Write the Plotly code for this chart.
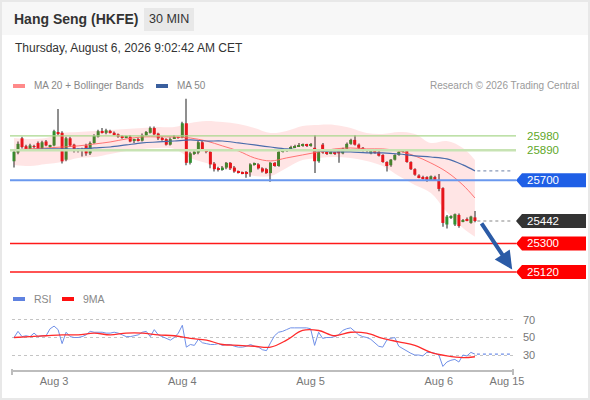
import plotly.graph_objects as go

W, H = 590, 400


def px(x):
    return x / W


def py(y):
    return 1 - y / H


# 30 min candles, Aug 3 -> Aug 6
open_ = [25820, 25875, 25965, 25915, 25895, 25915, 25935, 25900, 25945, 25915,
         25920, 26005, 26000, 25830, 25965, 25925, 25890, 25885, 25920, 25870,
         25935, 25975, 26005, 26000, 26012, 26000, 25990, 25975, 25972, 25975,
         25950, 25955, 25950, 25985, 26000, 26030, 25995, 25965, 25960, 25925,
         25965, 25970, 25970, 26060, 25810, 25870, 25875, 25940, 25890, 25880,
         25805, 25775, 25770, 25780, 25810, 25780, 25755, 25748, 25750, 25750,
         25800, 25800, 25775, 25770, 25745, 25810, 25790, 25880, 25885, 25890,
         25910, 25915, 25920, 25925, 25920, 25905, 25820, 25925, 25875, 25870,
         25875, 25885, 25870, 25900, 25930, 25955, 25925, 25905, 25890, 25870,
         25880, 25880, 25860, 25815, 25795, 25830, 25860, 25880, 25885, 25815,
         25770, 25730, 25720, 25720, 25700, 25720, 25700, 25650, 25420, 25465,
         25420, 25480, 25440, 25455, 25430, 25465]
high = [25890, 25945, 25975, 25925, 25930, 25925, 25945, 25950, 25955, 25925,
        26020, 26150, 26010, 25975, 25975, 25930, 25900, 25905, 25930, 25945,
        25990, 26020, 26030, 26025, 26020, 26008, 25995, 25985, 25982, 25985,
        25962, 25968, 25995, 26012, 26040, 26040, 26000, 25975, 25965, 25970,
        25985, 25975, 26070, 26215, 25880, 25895, 25950, 25950, 25895, 25885,
        25815, 25785, 25790, 25815, 25815, 25790, 25762, 25755, 25758, 25808,
        25812, 25808, 25782, 25778, 25815, 25815, 25890, 25895, 25898, 25918,
        25925, 25935, 25932, 25930, 25935, 25985, 25890, 25935, 25882, 25885,
        25880, 25890, 25905, 25938, 25962, 25985, 25932, 25910, 25898, 25895,
        25885, 25885, 25865, 25820, 25835, 25865, 25888, 25892, 25890, 25820,
        25775, 25738, 25728, 25725, 25730, 25728, 25740, 25655, 25480, 25478,
        25490, 25490, 25455, 25465, 25475, 25505]
low = [25780, 25865, 25900, 25885, 25890, 25900, 25895, 25895, 25915, 25905,
       25915, 25985, 25805, 25820, 25910, 25875, 25875, 25850, 25855, 25860,
       25930, 25970, 25995, 25990, 25995, 25985, 25968, 25962, 25965, 25940,
       25935, 25945, 25945, 25980, 25995, 25985, 25955, 25950, 25920, 25920,
       25960, 25962, 25965, 25795, 25800, 25860, 25865, 25885, 25870, 25775,
       25755, 25755, 25760, 25770, 25765, 25748, 25742, 25738, 25715, 25722,
       25792, 25768, 25748, 25740, 25690, 25785, 25785, 25875, 25878, 25885,
       25905, 25910, 25912, 25910, 25912, 25745, 25810, 25868, 25860, 25865,
       25860, 25810, 25865, 25895, 25925, 25920, 25898, 25882, 25875, 25865,
       25868, 25850, 25810, 25755, 25785, 25825, 25855, 25875, 25810, 25765,
       25728, 25712, 25705, 25690, 25695, 25695, 25630, 25405, 25395, 25455,
       25410, 25400, 25435, 25440, 25425, 25435]
close = [25880, 25930, 25910, 25895, 25920, 25912, 25900, 25940, 25920, 25918,
         26010, 25995, 25820, 25965, 25920, 25885, 25885, 25895, 25870, 25935,
         25980, 26010, 26002, 26015, 26000, 25992, 25975, 25970, 25975, 25945,
         25955, 25950, 25985, 26005, 26030, 25990, 25965, 25958, 25925, 25960,
         25970, 25968, 26060, 25810, 25870, 25880, 25940, 25895, 25880, 25800,
         25770, 25765, 25780, 25810, 25775, 25755, 25750, 25745, 25745, 25800,
         25805, 25775, 25755, 25745, 25810, 25790, 25880, 25885, 25890, 25910,
         25915, 25922, 25925, 25918, 25928, 25820, 25880, 25875, 25868, 25875,
         25870, 25870, 25900, 25930, 25955, 25925, 25905, 25890, 25885, 25890,
         25875, 25855, 25815, 25790, 25830, 25860, 25880, 25885, 25815, 25770,
         25735, 25720, 25712, 25700, 25725, 25700, 25645, 25430, 25470, 25470,
         25485, 25410, 25445, 25448, 25470, 25442]
rsi = [50, 57, 51, 52, 51, 55, 51, 52, 52, 60,
       63, 59, 43, 56, 51, 50, 50, 51, 53, 57,
       56, 56, 56, 55, 55, 56, 55, 53, 51, 51,
       52, 53, 56, 57, 51, 59, 53, 51, 49, 47,
       50, 55, 64, 39, 42, 41, 48, 44, 43, 42,
       42, 43, 41, 42, 42, 40, 39, 39, 40, 42,
       40, 39, 36, 35, 44, 52, 56, 57, 59, 61,
       61, 61, 61, 61, 60, 41, 56, 49, 50, 50,
       51, 53, 58, 60, 61, 57, 53, 51, 50, 48,
       44, 40, 39, 47, 49, 50, 40, 37, 34, 32,
       30, 30, 29, 33, 33, 32, 30, 17, 22, 24,
       25, 22, 30, 29, 33, 31]
idx = list(range(len(close)))

# indicators read every 4 candles
ind_idx = [0, 4, 8, 12, 16, 20, 24, 28, 32, 36, 40, 44, 48, 52, 56,
           60, 64, 68, 72, 76, 80, 84, 88, 92, 96, 100, 104, 108, 112, 115]
ma20 = [25892, 25898, 25904, 25910, 25917, 25929, 25942, 25961, 25974, 25974,
        25974, 25967, 25948, 25917, 25885, 25841, 25822, 25841, 25860, 25879,
        25898, 25904, 25898, 25898, 25885, 25854, 25809, 25752, 25670, 25588]
bb_up = [25967, 25961, 25967, 25999, 26005, 26012, 26018, 26024, 26031, 26037,
         26037, 26062, 26075, 26068, 26056, 26031, 25999, 26012, 26043, 26050,
         26050, 26031, 25999, 25993, 26005, 25993, 25936, 25948, 25904, 25828]
bb_lo = [25797, 25790, 25803, 25816, 25841, 25847, 25866, 25885, 25898, 25904,
         25898, 25841, 25809, 25778, 25752, 25727, 25727, 25778, 25828, 25841,
         25847, 25841, 25822, 25790, 25727, 25670, 25620, 25499, 25398, 25342]
ma50 = [25892, 25892, 25898, 25898, 25898, 25904, 25910, 25923, 25936, 25942,
        25948, 25955, 25948, 25948, 25936, 25923, 25910, 25898, 25892, 25885,
        25879, 25879, 25873, 25873, 25866, 25854, 25847, 25835, 25797, 25759]
rsi_ma9 = [50, 51, 52, 53, 53, 55, 53, 55, 55, 53, 52, 49, 47, 42, 41,
           40, 39, 47, 58, 58, 52, 56, 55, 49, 45, 41, 33, 29, 27, 28]

tick_idx = [10, 42, 74, 106, 123]
tick_txt = ['Aug 3', 'Aug 4', 'Aug 5', 'Aug 6', 'Aug 15']

resist = [25980, 25890]
pivot = 25700
supports = [25300, 25120]
target = 25120

FONT = 'Liberation Sans, Arial, sans-serif'
GREEN, RED, WICK = '#2f8f2f', '#e3141b', '#8f8f8f'

fig = go.Figure()

fig.add_trace(go.Scatter(x=ind_idx, y=bb_up, mode='lines', line=dict(width=0, shape='spline'),
                         hoverinfo='skip', showlegend=False))
fig.add_trace(go.Scatter(x=ind_idx, y=bb_lo, mode='lines', line=dict(width=0, shape='spline'),
                         fill='tonexty', fillcolor='rgba(255,40,40,0.12)',
                         hoverinfo='skip', showlegend=False))
fig.add_trace(go.Scatter(x=ind_idx, y=ma20, mode='lines',
                         line=dict(color='rgba(255,95,95,0.85)', width=1, shape='spline'),
                         showlegend=False))
fig.add_trace(go.Scatter(x=ind_idx, y=ma50, mode='lines',
                         line=dict(color='#4a6cab', width=1.2, shape='spline'),
                         showlegend=False))

# candles: wick bars + body bars (overlay)
wick_h = [h - l for h, l in zip(high, low)]
fig.add_trace(go.Bar(x=idx, base=low, y=wick_h, width=0.26,
                     marker=dict(color=WICK, line=dict(width=0)), showlegend=False))
body_lo = [min(o, c) for o, c in zip(open_, close)]
body_h = [max(abs(c - o), 4) for o, c in zip(open_, close)]
body_col = [GREEN if c >= o else RED for o, c in zip(open_, close)]
fig.add_trace(go.Bar(x=idx, base=body_lo, y=body_h, width=0.75,
                     marker=dict(color=body_col, line=dict(width=0)), showlegend=False))

fig.add_trace(go.Scatter(x=idx, y=rsi, mode='lines', xaxis='x2', yaxis='y2',
                         line=dict(color='#7090e8', width=1), showlegend=False))
fig.add_trace(go.Scatter(x=ind_idx, y=rsi_ma9, mode='lines', xaxis='x2', yaxis='y2',
                         line=dict(color='#ff2b2b', width=1.3, shape='spline'), showlegend=False))

shapes = [
    dict(type='rect', xref='paper', yref='paper', x0=0, x1=1, y0=py(35), y1=1,
         fillcolor='#f7f7f7', line=dict(width=0), layer='below'),
    dict(type='rect', xref='paper', yref='paper', x0=px(144), x1=px(194), y0=py(31), y1=py(8),
         fillcolor='#e8e8e8', line=dict(width=0), layer='below'),
    dict(type='rect', xref='paper', yref='paper', x0=px(1), x1=px(589), y0=py(399), y1=py(1),
         line=dict(color='#e8e8e8', width=2)),
    # legend swatches
    dict(type='rect', xref='paper', yref='paper', x0=px(13), x1=px(25), y0=py(88), y1=py(84),
         fillcolor='#ff8a8a', line=dict(width=0)),
    dict(type='rect', xref='paper', yref='paper', x0=px(156), x1=px(168), y0=py(88), y1=py(84),
         fillcolor='#3a5f9e', line=dict(width=0)),
    dict(type='rect', xref='paper', yref='paper', x0=px(13), x1=px(25), y0=py(301), y1=py(297),
         fillcolor='#5f82e0', line=dict(width=0)),
    dict(type='rect', xref='paper', yref='paper', x0=px(62), x1=px(74), y0=py(301), y1=py(297),
         fillcolor='#ff1010', line=dict(width=0)),
    # axis end ticks
    dict(type='line', xref='paper', yref='paper', x0=px(12), x1=px(12), y0=py(369), y1=py(375),
         line=dict(color='#bdbdbd', width=2)),
    dict(type='line', xref='paper', yref='paper', x0=px(513), x1=px(513), y0=py(369), y1=py(375),
         line=dict(color='#bdbdbd', width=2)),
    # dotted extensions
    dict(type='line', xref='x', yref='y', x0=idx[-1] + 0.6, x1=124.6, y0=close[-1], y1=close[-1],
         line=dict(color='#888888', width=1.2, dash='dot')),
    dict(type='line', xref='x', yref='y', x0=ind_idx[-1] + 0.6, x1=124.6, y0=ma50[-1], y1=ma50[-1],
         line=dict(color='#8a9ab8', width=1.2, dash='dot')),
    dict(type='line', xref='x2', yref='y2', x0=idx[-1] + 0.5, x1=123.8, y0=rsi[-1], y1=rsi[-1],
         line=dict(color='#7090e8', width=1.2, dash='dot')),
]

lx0, lx1 = px(10), px(516)
shapes.append(dict(type='line', xref='paper', yref='y', x0=lx0, x1=lx1, y0=resist[0], y1=resist[0],
                   line=dict(color='#a9d78c', width=1.2)))
shapes.append(dict(type='line', xref='paper', yref='y', x0=lx0, x1=lx1, y0=resist[1], y1=resist[1],
                   line=dict(color='#c7e3b3', width=2.5)))
shapes.append(dict(type='line', xref='paper', yref='y', x0=lx0, x1=lx1, y0=pivot, y1=pivot,
                   line=dict(color='#6a98ee', width=2)))
for s in supports:
    shapes.append(dict(type='line', xref='paper', yref='y', x0=lx0, x1=lx1, y0=s, y1=s,
                       line=dict(color='#ff1a1a', width=1.6)))

# price tags on the right
hh = 44
tags = [(pivot, '#1f5fe6'), (close[-1], '#333333'), (supports[0], '#ff0000'), (supports[1], '#ff0000')]
bx0, bx1, bx2 = px(516), px(522), px(586)
annotations = []
for v, col in tags:
    shapes.append(dict(type='path', xref='paper', yref='y', fillcolor=col, line=dict(width=0),
                       path=f'M {bx0},{v} L {bx1},{v + hh} L {bx2},{v + hh} L {bx2},{v - hh} '
                            f'L {bx1},{v - hh} Z'))
    annotations.append(dict(xref='paper', yref='y', x=px(525), y=v, xanchor='left', yanchor='middle',
                            text=str(v), showarrow=False, font=dict(color='white', size=11.5, family=FONT)))
for v in resist:
    annotations.append(dict(xref='paper', yref='y', x=px(525), y=v, xanchor='left', yanchor='middle',
                            text=str(v), showarrow=False, font=dict(color='#5fa82a', size=11.5, family=FONT)))

annotations += [
    dict(xref='x', yref='y', x=124.3, y=target + 15, ax=idx[-1] + 1.4, ay=close[-1] - 5,
         axref='x', ayref='y', text='', showarrow=True, arrowhead=2, arrowsize=0.9,
         arrowwidth=4, arrowcolor='#2b5ba6', standoff=0, startstandoff=0),
    dict(xref='paper', yref='paper', x=px(12), y=py(19), xanchor='left', yanchor='middle',
         text='<b>Hang Seng (HKFE)</b>', showarrow=False, font=dict(size=14, color='#333333', family=FONT)),
    dict(xref='paper', yref='paper', x=px(169), y=py(19.5), xanchor='center', yanchor='middle',
         text='30 MIN', showarrow=False, font=dict(size=12.5, color='#333333', family=FONT)),
    dict(xref='paper', yref='paper', x=px(13), y=py(48), xanchor='left', yanchor='middle',
         text='Thursday, August 6, 2026 9:02:42 AM CET', showarrow=False,
         font=dict(size=12, color='#333333', family=FONT)),
    dict(xref='paper', yref='paper', x=px(32), y=py(86), xanchor='left', yanchor='middle',
         text='MA 20 + Bollinger Bands', showarrow=False, font=dict(size=10, color='#888888', family=FONT)),
    dict(xref='paper', yref='paper', x=px(175), y=py(86), xanchor='left', yanchor='middle',
         text='MA 50', showarrow=False, font=dict(size=10, color='#888888', family=FONT)),
    dict(xref='paper', yref='paper', x=px(581), y=py(86), xanchor='right', yanchor='middle',
         text='Research © 2026 Trading Central', showarrow=False,
         font=dict(size=10, color='#9a9a9a', family=FONT)),
    dict(xref='paper', yref='paper', x=px(32), y=py(299), xanchor='left', yanchor='middle',
         text='RSI', showarrow=False, font=dict(size=10.5, color='#888888', family=FONT)),
    dict(xref='paper', yref='paper', x=px(81), y=py(299), xanchor='left', yanchor='middle',
         text='9MA', showarrow=False, font=dict(size=10.5, color='#888888', family=FONT)),
]

fig.update_layout(
    width=W, height=H, autosize=False, margin=dict(l=0, r=0, t=0, b=0, pad=0),
    paper_bgcolor='white', plot_bgcolor='rgba(0,0,0,0)',
    font=dict(family=FONT), showlegend=False, hovermode=False, barmode='overlay',
    shapes=shapes, annotations=annotations,
    xaxis=dict(domain=[px(12), px(513)], range=[-0.5, 124.5], anchor='y', visible=False,
               fixedrange=True, automargin=False),
    yaxis=dict(domain=[py(280), py(95)], range=[25069, 26239], visible=False, fixedrange=True,
               automargin=False),
    xaxis2=dict(domain=[px(12), px(513)], range=[-0.5, 124.5], anchor='y2', matches='x',
                tickvals=tick_idx, ticktext=tick_txt, ticks='', showgrid=False, zeroline=False,
                showline=True, linecolor='#bdbdbd', linewidth=2, automargin=False,
                tickfont=dict(size=11, color='#777777', family=FONT)),
    yaxis2=dict(domain=[py(370), py(305)], range=[12.9, 87.1], anchor='x2', side='right',
                tickvals=[30, 50, 70], showgrid=True, gridcolor='#c4c4c4', griddash='dot',
                gridwidth=1, zeroline=False, showline=False, ticks='', ticklabelstandoff=9,
                automargin=False, tickfont=dict(size=11, color='#777777', family=FONT)),
)

fig.write_html("out.html", config={'displayModeBar': False},
               post_script="document.body.style.margin='0';")
